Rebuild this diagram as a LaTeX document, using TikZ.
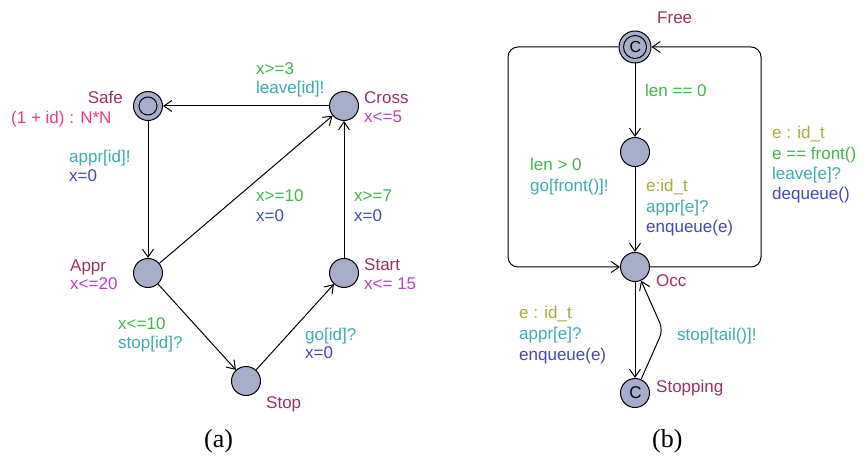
\documentclass[tikz,border=0pt]{standalone}
\usepackage{fontspec}
\setmainfont{Liberation Sans}
\newfontfamily\serifcap{Liberation Serif}
\usetikzlibrary{arrows.meta}
\definecolor{loccol}{RGB}{150,50,100}
\definecolor{invcol}{RGB}{185,65,185}
\definecolor{guardcol}{RGB}{65,180,75}
\definecolor{synccol}{RGB}{60,170,175}
\definecolor{asgcol}{RGB}{70,70,180}
\definecolor{selcol}{RGB}{170,170,60}
\definecolor{pinkcol}{RGB}{235,60,120}
\definecolor{nodefill}{RGB}{166,173,203}
\tikzset{
  loc/.style={circle,draw=black,fill=nodefill,line width=1pt,minimum size=29pt,inner sep=0pt},
  lbl/.style={anchor=base west,inner sep=0pt,font=\fontsize{17}{20}\selectfont},
  lblr/.style={anchor=base east,inner sep=0pt,font=\fontsize{17}{20}\selectfont},
  arr/.style={line width=1pt,-{Straight Barb[length=8pt,width=11pt,line width=1pt]}},
  captxt/.style={anchor=base west,inner sep=0pt,font=\serifcap\fontsize{26}{28}\selectfont}
}
\begin{document}
\begin{tikzpicture}[x=1pt,y=-1pt]
\useasboundingbox (0,0) rectangle (865,457);
% ---------- (a) ----------
\node[loc] (Safe) at (148,106) {};
\draw[line width=1pt] (Safe) circle (9);
\node[loc] (Cross) at (344,106) {};
\node[loc] (Appr) at (148,273) {};
\node[loc] (Start) at (344,273) {};
\node[loc] (Stop) at (246,381) {};

\draw[arr] (Cross) -- (Safe);
\draw[arr] (Safe) -- (Appr);
\draw[arr] (Appr) -- (Cross);
\draw[arr] (Appr) -- (Stop);
\draw[arr] (Stop) -- (Start);
\draw[arr] (Start) -- (Cross);

\node[lblr,text=loccol] (tSafe) at (123,104) {Safe};
\node[lbl,text=pinkcol] (tSafeP) at (11,124) {(1 + id) : N*N};
\node[lbl,text=loccol] (tCross) at (364,104) {Cross};
\node[lbl,text=invcol] (tCrossI) at (364,123) {x<=5};
\node[lbl,text=loccol] (tAppr) at (70,272) {Appr};
\node[lbl,text=invcol] (tApprI) at (70,290) {x<=20};
\node[lbl,text=loccol] (tStart) at (364,271) {Start};
\node[lbl,text=invcol] (tStartI) at (364,290) {x<= 15};
\node[lbl,text=loccol] (tStop) at (266,408) {Stop};

\node[lbl,text=synccol] (e1s) at (69,163) {appr[id]!};
\node[lbl,text=asgcol] (e1a) at (69,182) {x=0};
\node[lbl,text=guardcol] (e2g) at (256,75) {x>=3};
\node[lbl,text=synccol] (e2s) at (256,94) {leave[id]!};
\node[lbl,text=guardcol] (e3g) at (256,202) {x>=10};
\node[lbl,text=asgcol] (e3a) at (256,222) {x=0};
\node[lbl,text=guardcol] (e4g) at (354,202) {x>=7};
\node[lbl,text=asgcol] (e4a) at (354,222) {x=0};
\node[lbl,text=guardcol] (e5g) at (118,329) {x<=10};
\node[lbl,text=synccol] (e5s) at (118,348) {stop[id]?};
\node[lbl,text=synccol] (e6s) at (305,340) {go[id]?};
\node[lbl,text=asgcol] (e6a) at (305,358) {x=0};

\node[captxt] (capa) at (204,447) {(a)};

% ---------- (b) ----------
\node[loc,minimum size=32pt] (Free) at (635,47) {};
\draw[line width=1pt] (Free) circle (11.5);
\node[inner sep=0pt,font=\fontsize{16}{16}\selectfont] (FreeC) at (635.5,47) {C};
\node[loc] (Mid) at (635,152) {};
\node[loc] (Occ) at (635,267) {};
\node[loc] (Stopping) at (635,393) {};
\node[inner sep=0pt,font=\fontsize{17}{17}\selectfont] (StopC) at (635.5,393) {C};

\coordinate (FL) at (508,47);
\coordinate (OL) at (508,267);
\coordinate (OR) at (761,267);
\coordinate (FR) at (761,47);
\coordinate (SM) at (663,330);

\draw[arr] (Free) -- (Mid);
\draw[arr] (Mid) -- (Occ);
\draw[arr,rounded corners=10pt] (Free) -- (FL) -- (OL) -- (Occ);
\draw[arr,rounded corners=10pt] (Occ) -- (OR) -- (FR) -- (Free);
\draw[arr] (Occ) -- (Stopping);
\draw[arr,rounded corners=8pt] (Stopping) -- (SM) -- (Occ);

\node[lbl,text=loccol] (tFree) at (657,24) {Free};
\node[lbl,text=loccol] (tOcc) at (656,287) {Occ};
\node[lbl,text=loccol] (tStopping) at (656,392) {Stopping};

\node[lbl,text=guardcol] (f1g) at (645,97) {len == 0};
\node[lbl,text=guardcol] (f2g) at (530,171) {len > 0};
\node[lbl,text=synccol] (f2s) at (530,192) {go[front()]!};
\node[lbl,text=selcol] (f3e) at (646,192) {e:id\_t};
\node[lbl,text=synccol] (f3s) at (646,213) {appr[e]?};
\node[lbl,text=asgcol] (f3a) at (646,233) {enqueue(e)};
\node[lbl,text=selcol] (f4e) at (772,139) {e : id\_t};
\node[lbl,text=guardcol] (f4g) at (772,160) {e == front()};
\node[lbl,text=synccol] (f4s) at (772,180) {leave[e]?};
\node[lbl,text=asgcol] (f4a) at (772,200) {dequeue()};
\node[lbl,text=selcol] (f5e) at (519,318) {e : id\_t};
\node[lbl,text=synccol] (f5s) at (519,339) {appr[e]?};
\node[lbl,text=asgcol] (f5a) at (519,360) {enqueue(e)};
\node[lbl,text=synccol] (f6s) at (677,340) {stop[tail()]!};

\node[captxt] (capb) at (652,447) {(b)};
\end{tikzpicture}
\end{document}
